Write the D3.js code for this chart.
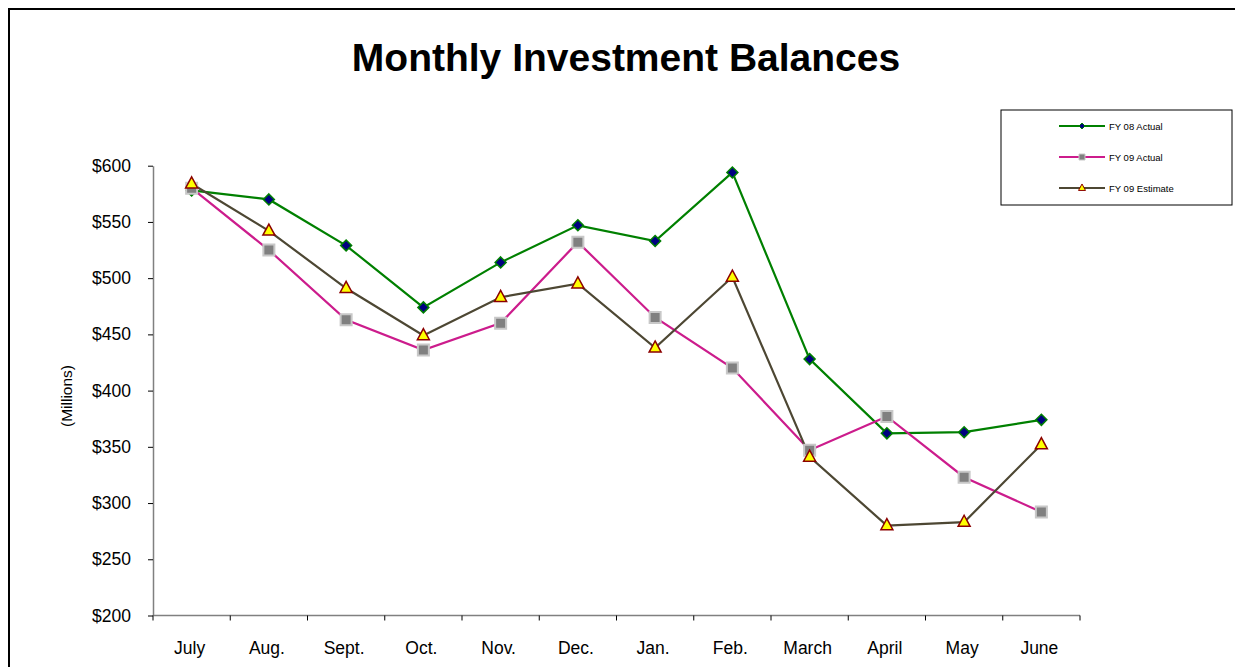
<!DOCTYPE html>
<html>
<head>
<meta charset="utf-8">
<script src="https://cdn.jsdelivr.net/npm/d3@7"></script>
<style>
  html, body { margin: 0; padding: 0; background: #fff; }
  svg { display: block; font-family: Arial, 'Liberation Sans', sans-serif; }
</style>
</head>
<body>
<div id="chart"></div>
<script>
const months = ['July', 'Aug.', 'Sept.', 'Oct.', 'Nov.', 'Dec.', 'Jan.', 'Feb.', 'March', 'April', 'May', 'June']
const fy08Actual = [578, 570, 529, 474, 514, 547, 533, 594, 428, 362, 363, 374]
const fy09Actual = [580, 525, 463, 436, 460, 532, 465, 420, 347, 377, 323, 292]
const fy09Estimate = [584, 542, 491, 449, 483, 495, 438, 501, 341, 280, 283, 352]
const yTicks = [200, 250, 300, 350, 400, 450, 500, 550, 600]
const seriesNames = ['FY 08 Actual', 'FY 09 Actual', 'FY 09 Estimate']

const width = 1235
const height = 667
const margin = { top: 165.7, right: 155, bottom: 51.5, left: 153 }

const svg = d3.select('#chart').append('svg').attr('width', width).attr('height', height)

// outer frame (runs off the right and bottom edges)
svg.append('rect')
  .attr('x', 9).attr('y', 9)
  .attr('width', 1240).attr('height', 700)
  .attr('fill', 'none').attr('stroke', '#000').attr('stroke-width', 2)

svg.append('text')
  .attr('x', 626).attr('y', 71)
  .attr('text-anchor', 'middle')
  .attr('font-size', '39px').attr('font-weight', 'bold')
  .text('Monthly Investment Balances')

const xScale = d3.scaleBand().domain(months).range([margin.left, width - margin.right])
const yScale = d3.scaleLinear().domain([200, 600]).range([height - margin.bottom, margin.top])
const cx = (d, i) => xScale(months[i]) + xScale.bandwidth() / 2

// y axis
svg.append('g')
  .attr('transform', `translate(${margin.left},0)`)
  .call(d3.axisLeft(yScale).tickValues(yTicks).tickFormat((d) => '$' + d).tickSizeOuter(0).tickSizeInner(5).tickPadding(17))
  .call((g) => {
    g.select('.domain').attr('stroke', '#808080').attr('stroke-width', 1.5)
    g.selectAll('.tick line').attr('stroke', '#000')
    g.selectAll('.tick text').attr('fill', '#000').attr('font-size', '17.5px').attr('font-family', 'Arial, sans-serif')
  })

// x axis: ticks at category boundaries
const xAxisY = height - margin.bottom
const xg = svg.append('g').attr('transform', `translate(0,${xAxisY})`)
xg.append('line')
  .attr('x1', margin.left).attr('x2', width - margin.right)
  .attr('stroke', '#808080').attr('stroke-width', 1.5)
const bounds = months.map((m) => xScale(m)).concat([width - margin.right])
xg.selectAll('.xt').data(bounds).join('line')
  .attr('x1', (d) => d).attr('x2', (d) => d)
  .attr('y1', 0).attr('y2', 5)
  .attr('stroke', '#000')
xg.selectAll('.xl').data(months).join('text')
  .attr('x', (d) => xScale(d) + xScale.bandwidth() / 2 - 2)
  .attr('y', 38)
  .attr('text-anchor', 'middle')
  .attr('font-size', '17.5px')
  .text((d) => d)

svg.append('text')
  .attr('transform', 'translate(72,396) rotate(-90)')
  .attr('text-anchor', 'middle')
  .attr('font-size', '15.5px')
  .text('(Millions)')

const line = d3.line().x(cx).y((d) => yScale(d))

const diamond = (s) => `M0,${-s}L${s},0L0,${s}L${-s},0Z`
const square = (s) => `M${-s},${-s}H${s}V${s}H${-s}Z`
const tri = (s) => `M0,${-s * 1.15}L${s},${s * 0.7}L${-s},${s * 0.7}Z`

const series = [
  { name: seriesNames[0], values: fy08Actual, color: '#008000', marker: diamond(5.5), fill: '#000080', stroke: '#008000', sw: 1.5 },
  { name: seriesNames[1], values: fy09Actual, color: '#CC1C8C', marker: square(5.5), fill: '#808080', stroke: '#C8C8C8', sw: 2 },
  { name: seriesNames[2], values: fy09Estimate, color: '#4D4733', marker: tri(6), fill: '#FFFF00', stroke: '#8B0000', sw: 1.5 }
]

series.forEach((s) => {
  svg.append('path')
    .datum(s.values)
    .attr('d', line)
    .attr('fill', 'none')
    .attr('stroke', s.color)
    .attr('stroke-width', 2.2)
})
series.forEach((s) => {
  svg.append('g').selectAll('path').data(s.values).join('path')
    .attr('transform', (d, i) => `translate(${cx(d, i)},${yScale(d)})`)
    .attr('d', s.marker)
    .attr('fill', s.fill)
    .attr('stroke', s.stroke)
    .attr('stroke-width', s.sw)
})

// legend
const lg = svg.append('g').attr('transform', 'translate(1001,110)')
lg.append('rect').attr('width', 231).attr('height', 95)
  .attr('fill', '#fff').attr('stroke', '#000').attr('stroke-width', 1)
const smallMarkers = [diamond(3), square(3), tri(3.5)]
series.forEach((s, i) => {
  const y = 16 + i * 31
  lg.append('line').attr('x1', 58).attr('x2', 104).attr('y1', y).attr('y2', y)
    .attr('stroke', s.color).attr('stroke-width', 2)
  lg.append('path').attr('transform', `translate(81,${y})`).attr('d', smallMarkers[i])
    .attr('fill', s.fill).attr('stroke', s.stroke).attr('stroke-width', 1)
  lg.append('text').attr('x', 108).attr('y', y + 3.5).attr('font-size', '9.5px').text(s.name)
})
</script>
</body>
</html>
